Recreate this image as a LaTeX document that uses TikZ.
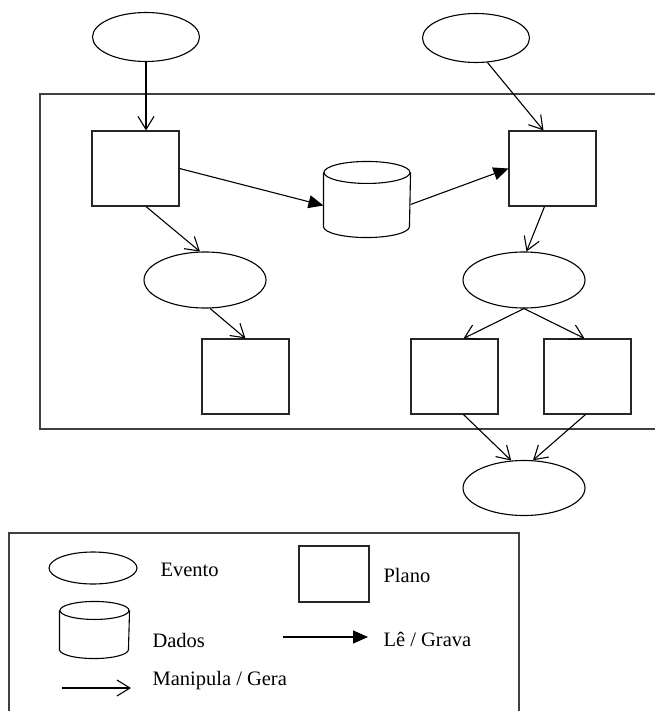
\documentclass[tikz,border=0pt]{standalone}
\usepackage{fontspec}
\setmainfont{Liberation Serif}
\usetikzlibrary{arrows.meta,shapes.geometric,calc}
\begin{document}
\begin{tikzpicture}[x=1pt,y=-1pt,line width=1.1pt,
  evt/.style={draw,ellipse,inner sep=0pt,minimum width=122pt,minimum height=56pt},
  topevt/.style={draw,ellipse,inner sep=0pt,minimum width=107pt,minimum height=49pt},
  plan/.style={draw=black!85,rectangle,inner sep=0pt,minimum width=87pt,minimum height=75pt},
  dbox/.style={rectangle,inner sep=0pt,minimum width=86pt,minimum height=75pt},
  frame/.style={draw=black!75,line width=1.3pt},
  openarr/.style={-{Straight Barb[length=13pt,width=16pt]}},
  fillarr/.style={-{Triangle[length=15pt,width=13pt]}},
  lbl/.style={anchor=west,inner sep=0pt,font=\fontsize{20.5}{24}\selectfont}]
\useasboundingbox (0,0) rectangle (655,711);
\fill[white] (0,0) rectangle (655,711);

% frames
\draw[frame] (655,94) -- (40,94) -- (40,429) -- (655,429);
\draw[frame] (9,711) -- (9,533) -- (519,533) -- (519,711);

% main nodes
\node[topevt] (e1) at (146,37) {};
\node[topevt] (e3) at (476,38) {};
\node[plan] (b1) at (135.5,168.5) {};
\node[plan] (b3) at (552.5,168.5) {};
\node[evt] (e2) at (205,280) {};
\node[evt] (e4) at (524,280) {};
\node[plan] (b2) at (245.5,376.5) {};
\node[plan] (b4) at (454.5,376.5) {};
\node[plan] (b5) at (587.5,376.5) {};
\node[evt,minimum height=55pt] (e5) at (524,488) {};
\node[dbox] (db) at (367,199.5) {};
\draw ($(db.north west)+(0,11)$) -- ($(db.south west)+(0,-11)$)
  arc[start angle=180,end angle=360,x radius=43pt,y radius=11pt]
  -- ($(db.north east)+(0,11)$);
\draw ($(db.north)+(0,11)$) ellipse[x radius=43pt,y radius=11pt];

% connectors
\draw[openarr] (e1.south) -- (e1.south |- b1.north);
\draw[openarr] (b1.south -| e1.south) -- (e2.100);
\draw[openarr] (e2.-80) -- (b2.north);
\draw[fillarr] (b1.east) -- ($(db.west)+(0,6)$);
\draw[fillarr] ($(db.east)+(0,5)$) -- (b3.west);
\draw[openarr] (e3.-65) -- ($(b3.north)+(-9,0)$);
\draw[openarr] ($(b3.south)+(-8,0)$) -- (e4.85);
\draw[openarr] (e4.south) -- ($(b4.north)+(9,0)$);
\draw[openarr] (e4.south) -- ($(b5.north)+(-3,0)$);
\draw[openarr] ($(b4.south)+(9,0)$) -- (e5.115);
\draw[openarr] ($(b5.south)+(-2,0)$) -- (e5.72);

% legend
\node[draw,ellipse,inner sep=0pt,minimum width=88pt,minimum height=32pt] (le) at (93,568) {};
\node[lbl] (tev) at (160,570) {Evento};
\node[plan,minimum width=70pt,minimum height=56pt] (lp) at (334,574) {};
\node[lbl] (tpl) at (383,575) {Plano};
\node[rectangle,inner sep=0pt,minimum width=69pt,minimum height=56pt] (ldb) at (94.5,630) {};
\draw ($(ldb.north west)+(0,9)$) -- ($(ldb.south west)+(0,-9)$)
  arc[start angle=180,end angle=360,x radius=34.5pt,y radius=9pt]
  -- ($(ldb.north east)+(0,9)$);
\draw ($(ldb.north)+(0,9)$) ellipse[x radius=34.5pt,y radius=9pt];
\node[lbl] (tda) at (152,640) {Dados};
\coordinate (fa1) at (283,637);
\coordinate (fa2) at (368,637);
\draw[fillarr] (fa1) -- (fa2);
\node[lbl] (tlg) at (383,639) {Lê / Grava};
\coordinate (oa1) at (62,688);
\coordinate (oa2) at (131,688);
\draw[openarr] (oa1) -- (oa2);
\node[lbl] (tmg) at (152,681) {Manipula / Gera};
\end{tikzpicture}
\end{document}
